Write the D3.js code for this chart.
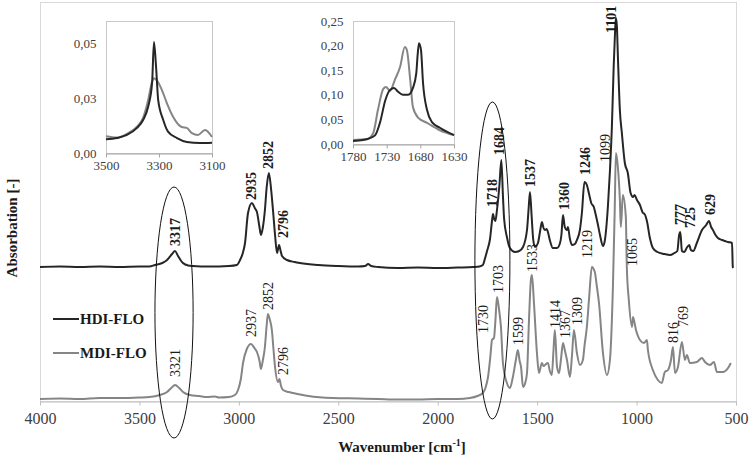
<!DOCTYPE html>
<html>
<head>
<meta charset="utf-8">
<script src="https://cdn.jsdelivr.net/npm/d3@7"></script>
<style>
body { margin: 0; background: #fff; }
svg text { font-family: "Liberation Serif", "Times New Roman", serif; }
</style>
</head>
<body>
<div id="chart"></div>
<script>
// spectra: [wavenumber, absorbance (a.u., stacked)]
const hdiSpectrum = [
  [4000,1.34],[3900,1.345],[3800,1.34],[3700,1.345],[3600,1.34],[3500,1.345],[3450,1.345],[3422,1.36],
  [3385,1.38],[3361,1.41],[3336,1.47],[3321,1.50],[3306,1.45],[3290,1.40],[3281,1.38],[3255,1.355],
  [3231,1.35],[3150,1.345],[3050,1.35],[3010,1.36],[2994,1.41],[2980,1.48],[2969,1.58],[2954,1.88],
  [2934,1.98],[2920,1.93],[2909,1.89],[2898,1.76],[2889,1.66],[2879,1.74],[2869,1.91],[2860,2.14],
  [2849,2.28],[2838,2.12],[2828,1.90],[2818,1.66],[2808,1.48],[2798,1.56],[2790,1.50],[2783,1.45],
  [2758,1.41],[2720,1.39],[2693,1.38],[2600,1.36],[2500,1.35],[2400,1.345],[2365,1.35],[2350,1.37],
  [2335,1.35],[2300,1.34],[2200,1.33],[2100,1.335],[2000,1.33],[1900,1.335],[1820,1.34],[1790,1.345],
  [1773,1.36],[1763,1.42],[1752,1.50],[1737,1.62],[1727,1.80],[1722,1.87],[1716,1.82],[1710,1.80],
  [1702,1.91],[1690,2.15],[1680,2.41],[1672,2.05],[1666,1.82],[1652,1.64],[1637,1.53],[1612,1.49],
  [1590,1.50],[1571,1.54],[1551,1.71],[1543,1.92],[1536,2.09],[1528,1.86],[1520,1.62],[1511,1.54],
  [1496,1.58],[1485,1.70],[1476,1.79],[1468,1.73],[1461,1.71],[1452,1.72],[1446,1.69],[1435,1.60],
  [1421,1.53],[1400,1.53],[1385,1.58],[1378,1.66],[1370,1.86],[1361,1.74],[1350,1.71],[1345,1.74],
  [1336,1.63],[1325,1.56],[1310,1.57],[1300,1.61],[1285,1.71],[1275,1.88],[1262,2.19],[1250,2.16],
  [1240,2.08],[1228,1.98],[1215,1.94],[1205,1.86],[1195,1.77],[1184,1.66],[1169,1.55],[1160,1.60],
  [1144,1.95],[1134,2.30],[1124,2.75],[1115,3.35],[1108,3.70],[1104,3.83],[1099,3.75],[1094,3.45],
  [1084,2.91],[1074,2.68],[1059,2.38],[1044,2.28],[1030,2.08],[1018,2.04],[1010,2.06],[998,2.01],
  [983,1.96],[968,1.88],[960,1.87],[948,1.80],[933,1.63],[918,1.53],[895,1.49],[860,1.47],
  [832,1.46],[810,1.48],[795,1.50],[786,1.66],[780,1.69],[772,1.50],[760,1.49],[748,1.53],
  [735,1.56],[727,1.51],[715,1.50],[697,1.58],[671,1.71],[650,1.76],[636,1.80],[625,1.74],
  [616,1.71],[603,1.66],[591,1.63],[570,1.61],[555,1.60],[540,1.59],[520,1.58],[516,1.34],[514,1.33]
];

const mdiSpectrum = [
  [4000,0.02],[3900,0.025],[3800,0.02],[3700,0.03],[3600,0.03],[3500,0.035],[3450,0.04],[3397,0.06],
  [3361,0.09],[3340,0.13],[3321,0.16],[3300,0.13],[3281,0.09],[3246,0.06],[3200,0.05],[3160,0.04],
  [3120,0.045],[3100,0.035],[3050,0.04],[3020,0.06],[3004,0.11],[2990,0.22],[2979,0.38],[2960,0.52],
  [2939,0.57],[2922,0.53],[2909,0.49],[2896,0.40],[2889,0.32],[2880,0.40],[2869,0.54],[2860,0.76],
  [2854,0.87],[2845,0.82],[2834,0.71],[2826,0.52],[2818,0.34],[2803,0.19],[2796,0.22],[2788,0.15],
  [2778,0.11],[2750,0.09],[2728,0.08],[2650,0.05],[2527,0.03],[2400,0.025],[2300,0.02],[2200,0.015],
  [2100,0.015],[2000,0.02],[1900,0.02],[1838,0.03],[1800,0.05],[1773,0.08],[1760,0.13],[1747,0.24],
  [1735,0.45],[1727,0.61],[1717,0.63],[1710,0.80],[1702,1.04],[1692,0.92],[1682,0.74],[1672,0.38],
  [1652,0.18],[1637,0.13],[1622,0.24],[1607,0.41],[1597,0.51],[1588,0.40],[1581,0.34],[1571,0.14],
  [1560,0.18],[1551,0.28],[1541,0.81],[1531,1.22],[1526,1.26],[1516,0.98],[1501,0.48],[1491,0.28],
  [1476,0.38],[1468,0.35],[1461,0.36],[1446,0.38],[1436,0.30],[1426,0.26],[1418,0.50],[1411,0.71],
  [1400,0.34],[1390,0.28],[1380,0.42],[1370,0.58],[1360,0.50],[1350,0.41],[1335,0.24],[1325,0.45],
  [1315,0.71],[1300,0.48],[1285,0.36],[1270,0.41],[1262,0.55],[1250,0.74],[1238,1.05],[1225,1.34],
  [1210,1.29],[1200,1.15],[1189,0.98],[1169,0.48],[1149,0.26],[1134,0.41],[1119,1.14],[1110,1.90],
  [1104,2.48],[1094,2.34],[1084,2.01],[1079,1.74],[1069,2.06],[1054,1.84],[1049,1.34],[1039,1.01],
  [1023,0.74],[1018,0.84],[1003,0.71],[983,0.61],[963,0.58],[948,0.61],[943,0.51],[918,0.31],
  [893,0.21],[873,0.18],[858,0.29],[842,0.31],[827,0.41],[817,0.54],[807,0.28],[792,0.34],
  [772,0.59],[757,0.41],[747,0.46],[732,0.38],[697,0.39],[671,0.43],[656,0.39],[631,0.36],
  [611,0.39],[596,0.29],[566,0.29],[540,0.33],[526,0.38]
];

// peak labels: [text, wavenumber at label, absorbance at label base]
const hdiPeakLabels = [
  ["3317",3321,1.55],["2935",2937,2.01],["2852",2852,2.32],["2796",2780,1.63],
  ["1718",1727,1.94],["1684",1692,2.46],["1537",1537,2.14],["1360",1365,1.91],
  ["1246",1259,2.26],["1101",1130,3.68],["777",782,1.76],["725",732,1.73],["629",631,1.86]
];
const mdiPeakLabels = [
  ["3321",3321,0.24],["2937",2939,0.64],["2852",2852,0.91],["2796",2778,0.26],
  ["1730",1773,0.68],["1703",1697,1.08],["1599",1597,0.56],["1533",1526,1.29],
  ["1414",1411,0.73],["1367",1361,0.63],["1309",1300,0.76],["1219",1250,1.43],
  ["1099",1159,2.39],["1065",1023,1.35],["816",817,0.58],["769",767,0.74]
];

// highlighted regions: [wavenumber from, wavenumber to, absorbance top, absorbance bottom]
const highlightRegions = [
  [3422,3230,2.14,-0.37],
  [1813,1637,2.99,-0.18]
];

const xTicks = [4000,3500,3000,2500,2000,1500,1000,500];

// inset 1 (N-H region)
const insetOneHdi = [
  [3500,0.0062],[3459,0.0068],[3421,0.0082],[3383,0.0114],[3360,0.015],[3341,0.021],[3326,0.032],
  [3319,0.0505],[3311,0.039],[3303,0.024],[3284,0.015],[3266,0.0097],[3232,0.0068],[3195,0.005],
  [3145,0.0045],[3100,0.0047]
];
const insetOneMdi = [
  [3500,0.0076],[3459,0.007],[3421,0.0087],[3383,0.012],[3360,0.016],[3341,0.024],[3326,0.0325],
  [3319,0.034],[3308,0.033],[3289,0.0286],[3270,0.0226],[3247,0.0165],[3214,0.0118],[3195,0.0114],
  [3176,0.009],[3153,0.0082],[3126,0.0105],[3100,0.0073]
];
const insetOneXTicks = [3500,3300,3100];
const insetOneYTicks = [0,0.025,0.05];
const insetOneYLabels = ["0,00","0,03","0,05"];

// inset 2 (C=O region)
const insetTwoHdi = [
  [1780,0.006],[1765,0.008],[1755,0.012],[1747,0.018],[1740,0.043],[1732,0.089],[1725,0.110],
  [1719,0.114],[1713,0.106],[1706,0.100],[1698,0.100],[1691,0.114],[1686,0.144],[1684,0.181],
  [1682,0.205],[1679,0.191],[1676,0.124],[1670,0.069],[1663,0.045],[1651,0.033],[1630,0.018]
];
const insetTwoMdi = [
  [1780,0.008],[1759,0.010],[1750,0.022],[1743,0.069],[1735,0.112],[1731,0.116],[1725,0.108],
  [1718,0.130],[1710,0.157],[1703,0.197],[1700,0.191],[1695,0.130],[1691,0.075],[1683,0.053],
  [1670,0.043],[1651,0.028],[1630,0.018]
];
const insetTwoXTicks = [1780,1730,1680,1630];
const insetTwoYTicks = [0,0.05,0.10,0.15,0.20,0.25];
const insetTwoYLabels = ["0,00","0,05","0,10","0,15","0,20","0,25"];

const hdiColor = "#262626";
const mdiColor = "#858585";
const serif = "'Liberation Serif', 'Times New Roman', serif";

const width = 749, height = 461;
const plot = { left: 40, right: 736, top: 2, bottom: 401 };

const svg = d3.select("#chart").append("svg")
  .attr("width", width)
  .attr("height", height);

const x = d3.scaleLinear().domain([4000, 500]).range([plot.left, plot.right]);
const y = d3.scaleLinear().domain([0, 3.99]).range([plot.bottom, plot.top]);

// frame
svg.append("rect")
  .attr("x", plot.left + 0.5).attr("y", plot.top + 0.5)
  .attr("width", plot.right - plot.left).attr("height", plot.bottom - plot.top)
  .attr("fill", "none").attr("stroke", "#d9d9d9");

// x axis
const xAxis = svg.append("g")
  .attr("transform", `translate(0,${plot.bottom + 0.5})`)
  .call(d3.axisBottom(x).tickValues(xTicks).tickFormat(d3.format("d"))
    .tickSize(4).tickSizeOuter(0).tickPadding(7));
xAxis.select(".domain").attr("stroke", "#bfbfbf");
xAxis.selectAll(".tick line").attr("stroke", "#bfbfbf");
xAxis.selectAll(".tick text")
  .style("font-family", serif)
  .attr("font-size", 16).attr("fill", "#404040");

// axis titles
const xTitle = svg.append("text")
  .attr("x", 402).attr("y", 452)
  .attr("text-anchor", "middle")
  .attr("font-size", 15).attr("font-weight", "bold").attr("fill", "#1a1a1a");
xTitle.append("tspan").text("Wavenumber  [cm");
xTitle.append("tspan").attr("font-size", 10).attr("dy", -6).text("-1");
xTitle.append("tspan").attr("dy", 6).text("]");

svg.append("text")
  .attr("transform", "translate(17,228) rotate(-90)")
  .attr("text-anchor", "middle")
  .attr("font-size", 15).attr("font-weight", "bold").attr("fill", "#1a1a1a")
  .text("Absorbation  [-]");

// spectra
const line = d3.line()
  .x(d => x(d[0]))
  .y(d => y(d[1]))
  .curve(d3.curveMonotoneX);

svg.append("path").datum(mdiSpectrum)
  .attr("d", line).attr("fill", "none")
  .attr("stroke", mdiColor).attr("stroke-width", 2).attr("stroke-linejoin", "round");
svg.append("path").datum(hdiSpectrum)
  .attr("d", line).attr("fill", "none")
  .attr("stroke", hdiColor).attr("stroke-width", 2).attr("stroke-linejoin", "round");

// highlighted regions
svg.selectAll(".region").data(highlightRegions).enter()
  .append("ellipse")
  .attr("class", "region")
  .attr("cx", d => (x(d[0]) + x(d[1])) / 2)
  .attr("cy", d => (y(d[2]) + y(d[3])) / 2)
  .attr("rx", d => (x(d[1]) - x(d[0])) / 2)
  .attr("ry", d => (y(d[3]) - y(d[2])) / 2)
  .attr("fill", "none").attr("stroke", "#111").attr("stroke-width", 1);

// peak labels
const drawPeakLabels = (labels, bold) => {
  svg.selectAll(null).data(labels).enter()
    .append("text")
    .attr("transform", d => `translate(${x(d[1])},${y(d[2])}) rotate(-90)`)
    .attr("dy", "0.35em")
    .attr("font-size", 14)
    .attr("font-weight", bold ? "bold" : "normal")
    .attr("fill", "#1a1a1a")
    .text(d => d[0]);
};
drawPeakLabels(hdiPeakLabels, true);
drawPeakLabels(mdiPeakLabels, false);

// legend
const legend = svg.append("g");
[["HDI-FLO", hdiColor, 319], ["MDI-FLO", mdiColor, 353]].forEach(([name, color, ly]) => {
  legend.append("line")
    .attr("x1", 53).attr("x2", 79).attr("y1", ly).attr("y2", ly)
    .attr("stroke", color).attr("stroke-width", 2);
  legend.append("text")
    .attr("x", 80).attr("y", ly + 5)
    .attr("font-size", 15).attr("font-weight", "bold").attr("fill", "#1a1a1a")
    .text(name);
});

// insets
const drawInset = (box, xDomain, yDomain, xTickVals, yTickVals, yLabels, hdi, mdi) => {
  const ix = d3.scaleLinear().domain(xDomain).range([box.left, box.right]);
  const iy = d3.scaleLinear().domain(yDomain).range([box.bottom, box.top]);
  const g = svg.append("g");

  g.append("rect")
    .attr("x", box.left + 0.5).attr("y", box.top + 0.5)
    .attr("width", box.right - box.left).attr("height", box.bottom - box.top)
    .attr("fill", "#fff").attr("stroke", "#c8c8c8");

  const ax = g.append("g")
    .attr("transform", `translate(0,${box.bottom + 0.5})`)
    .call(d3.axisBottom(ix).tickValues(xTickVals).tickFormat(d3.format("d"))
      .tickSize(4).tickSizeOuter(0).tickPadding(3));
  ax.select(".domain").attr("stroke", "#a6a6a6");
  ax.selectAll(".tick line").attr("stroke", "#a6a6a6");
  ax.selectAll(".tick text")
    .style("font-family", serif)
    .attr("font-size", 13).attr("fill", "#404040");

  const ay = g.append("g")
    .attr("transform", `translate(${box.left + 0.5},0)`)
    .call(d3.axisLeft(iy).tickValues(yTickVals).tickFormat((d, i) => yLabels[i])
      .tickSize(0).tickPadding(10));
  ay.select(".domain").remove();
  ay.selectAll(".tick text")
    .style("font-family", serif)
    .attr("font-size", 13).attr("fill", "#404040");

  const iline = d3.line()
    .x(d => ix(d[0]))
    .y(d => iy(d[1]))
    .curve(d3.curveMonotoneX);
  g.append("path").datum(mdi).attr("d", iline).attr("fill", "none")
    .attr("stroke", mdiColor).attr("stroke-width", 2);
  g.append("path").datum(hdi).attr("d", iline).attr("fill", "none")
    .attr("stroke", hdiColor).attr("stroke-width", 2);
};

drawInset({ left: 106, right: 212, top: 21, bottom: 153 }, [3500, 3100], [0, 0.06],
  insetOneXTicks, insetOneYTicks, insetOneYLabels, insetOneHdi, insetOneMdi);
drawInset({ left: 353, right: 454, top: 21, bottom: 144 }, [1780, 1630], [0, 0.25],
  insetTwoXTicks, insetTwoYTicks, insetTwoYLabels, insetTwoHdi, insetTwoMdi);
</script>
</body>
</html>
